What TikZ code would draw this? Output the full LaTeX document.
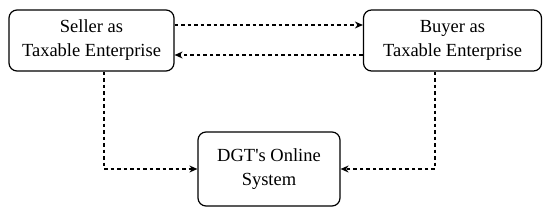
\documentclass[tikz,border=0pt]{standalone}
\usepackage{fontspec}
\newfontfamily\boxfont{Liberation Serif}
\usetikzlibrary{arrows.meta}
\begin{document}
\begin{tikzpicture}[x=1pt,y=-1pt,
  box/.style={draw, line width=1.2pt, rounded corners=8pt, align=center, font=\boxfont\fontsize{18.5}{24}\selectfont, inner sep=0pt},
  conn/.style={line width=1.1pt, dash pattern=on 3.5pt off 3pt, -{Stealth[length=8pt,width=7pt]}}]
\useasboundingbox (0,0) rectangle (550,217);
\node[box, minimum width=165pt, minimum height=61pt] (seller) at (91.5,40.5) {Seller as\\Taxable Enterprise};
\node[box, minimum width=178pt, minimum height=61pt] (buyer) at (452.5,40.5) {Buyer as\\Taxable Enterprise};
\node[box, minimum width=142pt, minimum height=74pt] (dgt) at (269,169) {DGT's Online\\System};
\draw[conn] (seller.east |- 0,25) -- (buyer.west |- 0,25);
\draw[conn] (buyer.west |- 0,55) -- (seller.east |- 0,55);
\draw[conn] (seller.south -| 104,0) |- (dgt.west);
\draw[conn] (buyer.south -| 435,0) |- (dgt.east);
\end{tikzpicture}
\end{document}
